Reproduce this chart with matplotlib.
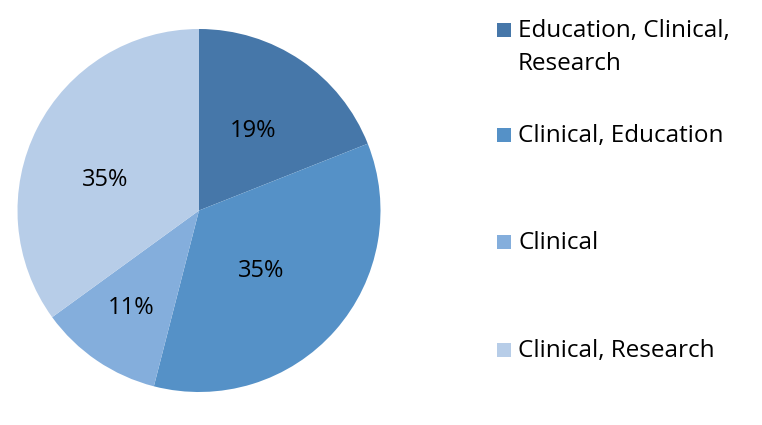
import matplotlib
matplotlib.use("Agg")
import matplotlib.pyplot as plt
from matplotlib.patches import Rectangle

categories = ["Education, Clinical,\nResearch", "Clinical, Education", "Clinical", "Clinical, Research"]
values = [19, 35, 11, 35]
colors = ["#4677A9", "#5591C7", "#84AEDC", "#B7CDE8"]
# label placement (in pie-radius units), as Excel's "best fit"
label_xy = [(0.298, 0.44), (0.342, -0.335), (-0.372, -0.538), (-0.518, 0.168)]

plt.rcParams['font.family'] = ['Open Sans', 'DejaVu Sans']

W, H = 762, 425
fig = plt.figure(figsize=(W / 100, H / 100), dpi=100)
cx, cy, r = 199, 425 - 210.5, 181.5
ax = fig.add_axes([(cx - r) / W, (cy - r) / H, 2 * r / W, 2 * r / H])
wedges, texts, autotexts = ax.pie(values, colors=colors, startangle=90, counterclock=False,
                                  autopct='%1.0f%%', pctdistance=0.55,
                                  textprops=dict(fontsize=17, color='black'),
                                  wedgeprops=dict(linewidth=0))
ax.set_xlim(-1, 1)
ax.set_ylim(-1, 1)
ax.set_aspect('equal')
for t, xy in zip(autotexts, label_xy):
    t.set_position(xy)
    t.set_ha('center'); t.set_va('center')

# legend drawn manually
row_y = [30, 135, 242, 350]
text_y = [47.5, 136, 243, 351]
for lab, col, y, ty in zip(categories, colors, row_y, text_y):
    fig.patches.append(Rectangle((497 / W, (H - y - 7) / H), 14 / W, 14 / H,
                                 transform=fig.transFigure, facecolor=col, edgecolor='none'))
    fig.text(518 / W, (H - ty) / H, lab, ha='left', va='center',
             fontsize=17.5, linespacing=1.45, color='black')

fig.savefig("out.png", dpi=100)
